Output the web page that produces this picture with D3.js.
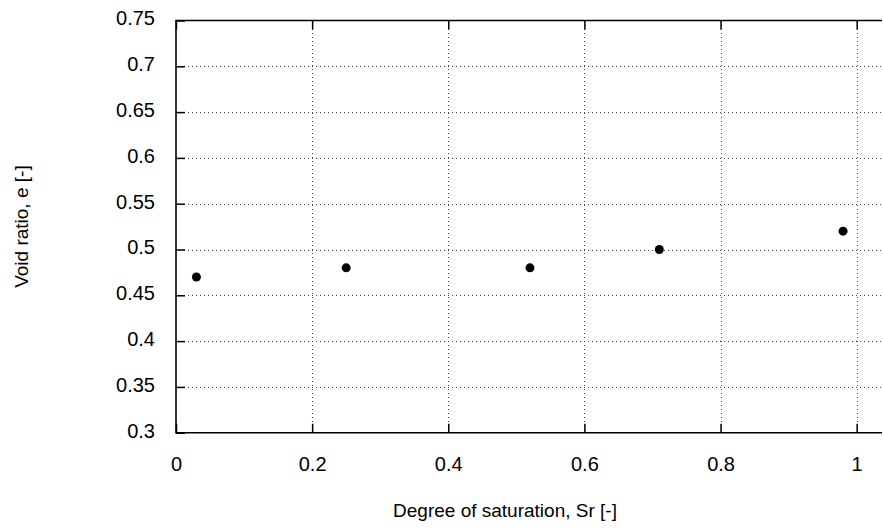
<!DOCTYPE html>
<html>
<head>
<meta charset="utf-8">
<script src="https://cdn.jsdelivr.net/npm/d3@7"></script>
<style>
  html, body { margin: 0; padding: 0; background: #fff; }
  svg { display: block; }
  text { font-family: "Liberation Sans", Arial, sans-serif; fill: #000; }
</style>
</head>
<body>
<script>
// Data
const saturation = [0.03, 0.25, 0.52, 0.71, 0.98];
const voidRatio  = [0.47, 0.48, 0.48, 0.50, 0.52];
const xTicks = [0, 0.2, 0.4, 0.6, 0.8, 1];
const yTicks = [0.3, 0.35, 0.4, 0.45, 0.5, 0.55, 0.6, 0.65, 0.7, 0.75];
const xTitle = "Degree of saturation, Sr [-]";
const yTitle = "Void ratio, e [-]";

const W = 883, H = 528;
const mLeft = 176, mTop = 20.5, mBottom = 432.7, mRight = 882;

const svg = d3.select("body").append("svg").attr("width", W).attr("height", H);

const x = d3.scaleLinear().domain([0, 1.0372]).range([mLeft, mRight]);
const y = d3.scaleLinear().domain([0.3, 0.75]).range([mBottom, mTop]);

const fmt = d => String(+d.toFixed(2));

// Grid
const grid = svg.append("g").attr("stroke", "#444").attr("stroke-width", 1)
  .attr("stroke-dasharray", "1.2,2.8").attr("shape-rendering", "crispEdges");
grid.selectAll("line.gx").data(xTicks.filter(d => d > 0)).join("line")
  .attr("x1", d => Math.round(x(d)) + 0.5).attr("x2", d => Math.round(x(d)) + 0.5)
  .attr("y1", mTop).attr("y2", mBottom);
grid.selectAll("line.gy").data(yTicks.filter(d => d > 0.3 && d < 0.75)).join("line")
  .attr("y1", d => Math.round(y(d)) + 0.5).attr("y2", d => Math.round(y(d)) + 0.5)
  .attr("x1", mLeft).attr("x2", mRight);

// Axes (inward ticks, gnuplot style)
const yAxis = d3.axisLeft(y).tickValues(yTicks).tickSize(-9).tickPadding(21).tickFormat(fmt);
const xAxis = d3.axisBottom(x).tickValues(xTicks).tickSize(-9).tickPadding(24).tickFormat(fmt);
const xTopAxis = d3.axisTop(x).tickValues(xTicks).tickSize(-9).tickFormat("");

const gy = svg.append("g").attr("transform", `translate(${mLeft},0)`).call(yAxis);
const gx = svg.append("g").attr("transform", `translate(0,${mBottom})`).call(xAxis);
const gt = svg.append("g").attr("transform", `translate(0,${mTop})`).call(xTopAxis);
[gy, gx, gt].forEach(g => {
  g.select(".domain").remove();
  g.selectAll(".tick line").attr("stroke", "#000").attr("stroke-width", 1.5);
  g.selectAll("text").attr("font-size", 20).style("font-family", "Liberation Sans, Arial, sans-serif");
});
gy.selectAll(".tick text").attr("dy", "0.22em");

// Border (left, bottom, top; right edge out of view)
svg.append("path")
  .attr("d", `M${mRight},${mTop}H${mLeft}V${mBottom}H${mRight}`)
  .attr("fill", "none").attr("stroke", "#000").attr("stroke-width", 1.6);

// Points
svg.append("g").selectAll("circle").data(saturation).join("circle")
  .attr("cx", d => x(d)).attr("cy", (d, i) => y(voidRatio[i]))
  .attr("r", 4.5).attr("fill", "#000");

// Titles
svg.append("text").attr("x", 505).attr("y", 517).attr("text-anchor", "middle")
  .attr("font-size", 19).text(xTitle);
svg.append("text").attr("transform", `translate(28,${(mTop + mBottom) / 2}) rotate(-90)`)
  .attr("text-anchor", "middle").attr("font-size", 19).text(yTitle);
</script>
</body>
</html>
